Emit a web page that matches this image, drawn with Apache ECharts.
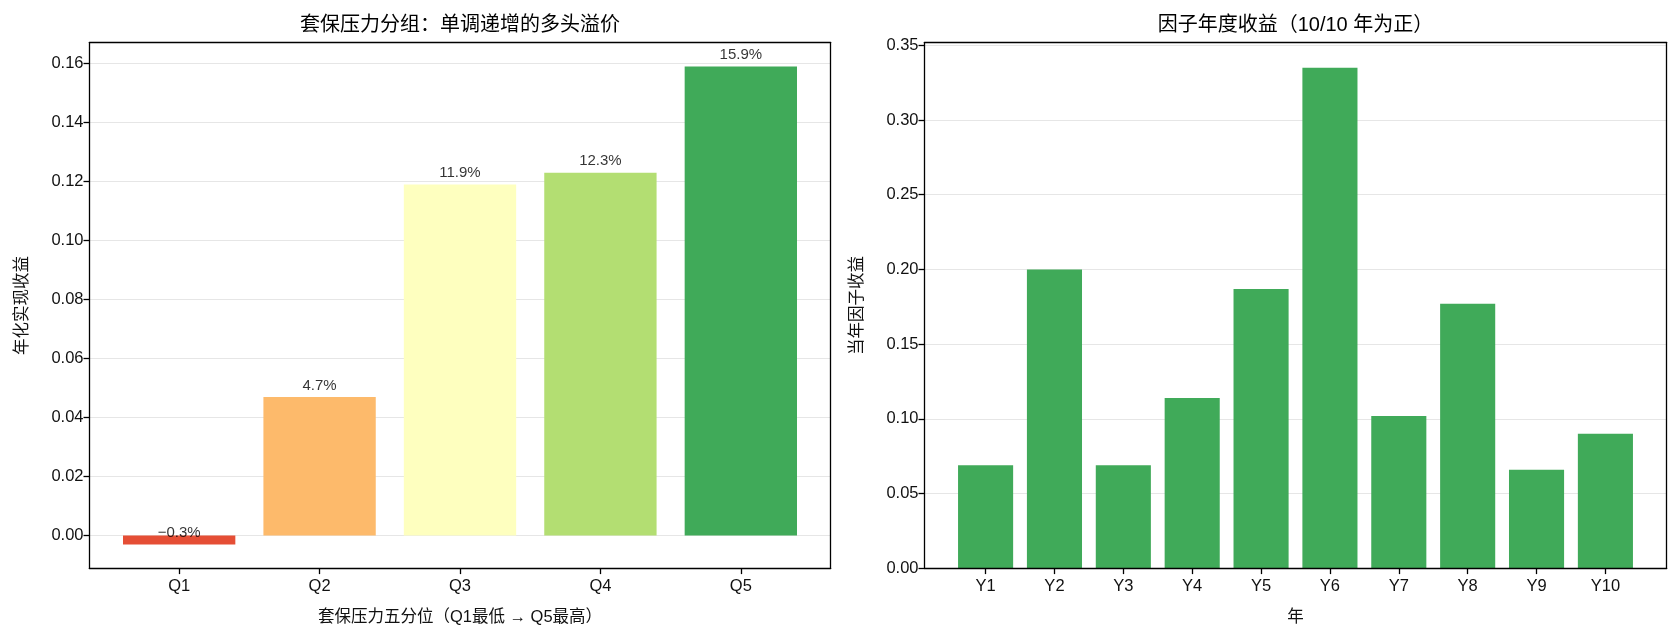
<!DOCTYPE html>
<html>
<head>
<meta charset="utf-8">
<script src="https://cdn.jsdelivr.net/npm/echarts@6/dist/echarts.min.js"></script>
<style>
html,body{margin:0;padding:0;background:#fff;}
#c{width:1678px;height:637px;}
</style>
</head>
<body>
<div id="c"></div>
<script>
// ---- data ----
const quintileCats = ['Q1', 'Q2', 'Q3', 'Q4', 'Q5'];
const quintileReturns = [-0.003, 0.047, 0.119, 0.123, 0.159];
const quintileColors = ['#e54e35', '#fdba6b', '#feffbf', '#b3de72', '#40aa59'];
const yearCats = ['Y1', 'Y2', 'Y3', 'Y4', 'Y5', 'Y6', 'Y7', 'Y8', 'Y9', 'Y10'];
const yearReturns = [0.069, 0.200, 0.069, 0.114, 0.187, 0.335, 0.102, 0.177, 0.066, 0.090];
const leftTicks = [0.00, 0.02, 0.04, 0.06, 0.08, 0.10, 0.12, 0.14, 0.16];
const rightTicks = [0.00, 0.05, 0.10, 0.15, 0.20, 0.25, 0.30, 0.35];

const FONT = "'Liberation Sans', 'Noto Sans CJK SC', sans-serif";
const TXT = '#111';

// matplotlib-like autoscale (5% margins)
const lMin0 = Math.min(0, ...quintileReturns), lMax0 = Math.max(...quintileReturns);
const lPad = (lMax0 - lMin0) * 0.05;
const leftMin = lMin0 - lPad, leftMax = lMax0 + lPad;
const rightMin = 0, rightMax = Math.max(...yearReturns) * 1.05;

// layout (pixels)
const L = {left: 89.3, top: 42.7, width: 741.4, height: 525.6};
const R = {left: 924.3, top: 42.7, width: 742.4, height: 525.6};
function bandGrid(frame, n) {
  const span = (n - 1) + 0.8;
  const m = span * 0.05;
  const total = span + 2 * m;
  const pxPer = frame.width / total;
  const start = frame.left + (0.4 + m - 0.5) * pxPer;
  return {left: start, top: frame.top, width: n * pxPer, height: frame.height};
}
const LB = bandGrid(L, quintileCats.length);
const RB = bandGrid(R, yearCats.length);

function fmtTick(step) {
  return function (v) {
    const k = v / step;
    if (Math.abs(k - Math.round(k)) > 1e-6) return '';
    return v.toFixed(2);
  };
}
function frameAxisX(gridIndex, position) {
  return {type: 'value', gridIndex, position, min: 0, max: 1, z: 5,
    axisLine: {show: true, onZero: false, lineStyle: {color: '#000', width: 1.3}},
    axisTick: {show: false}, axisLabel: {show: false}, splitLine: {show: false}};
}
function frameAxisYRight(gridIndex, min, max) {
  return {type: 'value', gridIndex, position: 'right', min, max, z: 5,
    axisLine: {show: true, onZero: false, lineStyle: {color: '#000', width: 1.3}},
    axisTick: {show: false}, axisLabel: {show: false}, splitLine: {show: false}};
}
function mainAxisY(gridIndex, min, max, splitNumber, ticks, step) {
  return {type: 'value', gridIndex, position: 'left', min, max, splitNumber, z: 0,
    axisLine: {show: true, onZero: false, lineStyle: {color: '#000', width: 1.3}},
    axisTick: {show: true, length: 5.8, customValues: ticks, lineStyle: {color: '#000', width: 1.3}},
    axisLabel: {show: true, margin: 5.8, customValues: ticks, formatter: fmtTick(step),
      fontFamily: FONT, fontSize: 16.5, color: TXT},
    splitLine: {show: true, lineStyle: {color: '#e6e6e6', width: 1.2}}};
}
function hiddenY(gridIndex, min, max) {
  return {type: 'value', gridIndex, min, max, show: false, splitLine: {show: false}};
}
function catX(gridIndex, cats) {
  return {type: 'category', gridIndex, data: cats, boundaryGap: true, position: 'bottom', z: 5,
    axisLine: {show: false, onZero: false},
    axisTick: {show: true, alignWithLabel: true, length: 5.8, lineStyle: {color: '#000', width: 1.3}},
    axisLabel: {margin: 10, fontFamily: FONT, fontSize: 16.5, color: TXT},
    splitLine: {show: false}};
}
function pct(v) {
  return (v * 100).toFixed(1).replace('-', '\u2212') + '%';
}

const chart = echarts.init(document.getElementById('c'), null, {renderer: 'canvas'});
chart.setOption({
  animation: false,
  backgroundColor: '#fff',
  grid: [
    Object.assign({containLabel: false}, L),
    Object.assign({containLabel: false}, LB),
    Object.assign({containLabel: false}, R),
    Object.assign({containLabel: false}, RB)
  ],
  xAxis: [
    frameAxisX(0, 'bottom'), frameAxisX(0, 'top'), catX(1, quintileCats),
    frameAxisX(2, 'bottom'), frameAxisX(2, 'top'), catX(3, yearCats)
  ],
  yAxis: [
    mainAxisY(0, leftMin, leftMax, 9, leftTicks, 0.02), frameAxisYRight(0, leftMin, leftMax), hiddenY(1, leftMin, leftMax),
    mainAxisY(2, rightMin, rightMax, 7, rightTicks, 0.05), frameAxisYRight(2, rightMin, rightMax), hiddenY(3, rightMin, rightMax)
  ],
  series: [
    {type: 'bar', xAxisIndex: 2, yAxisIndex: 2, barWidth: '80%', z: 2,
     data: quintileReturns.map((v, i) => ({value: v, itemStyle: {color: quintileColors[i]}}))},
    {type: 'scatter', xAxisIndex: 2, yAxisIndex: 2, symbolSize: 1, z: 6,
     itemStyle: {color: 'rgba(0,0,0,0)'},
     label: {show: true, position: 'top', distance: 3.5, fontFamily: FONT, fontSize: 15, color: '#000',
       formatter: p => pct(p.value[1])},
     data: quintileReturns.map((v, i) => [quintileCats[i], v])},
    {type: 'bar', xAxisIndex: 5, yAxisIndex: 5, barWidth: '80%', z: 2,
     itemStyle: {color: '#40aa59'}, data: yearReturns}
  ],
  graphic: [
    {type: 'text', x: L.left + L.width / 2, y: 25, z: 10,
     style: {text: '套保压力分组：单调递增的多头溢价', font: '20px ' + FONT, fill: '#000', align: 'center', verticalAlign: 'middle'}},
    {type: 'text', x: R.left + R.width / 2, y: 25, z: 10,
     style: {text: '因子年度收益（10/10 年为正）', font: '20px ' + FONT, fill: '#000', align: 'center', verticalAlign: 'middle'}},
    {type: 'text', x: L.left + L.width / 2, y: 617, z: 10,
     style: {text: '套保压力五分位（Q1最低 → Q5最高）', font: '16.5px ' + FONT, fill: TXT, align: 'center', verticalAlign: 'middle'}},
    {type: 'text', x: R.left + R.width / 2, y: 617, z: 10,
     style: {text: '年', font: '16.5px ' + FONT, fill: TXT, align: 'center', verticalAlign: 'middle'}},
    {type: 'text', x: 22, y: L.top + L.height / 2, rotation: Math.PI / 2, z: 10,
     style: {text: '年化实现收益', font: '16.5px ' + FONT, fill: TXT, align: 'center', verticalAlign: 'middle'}},
    {type: 'text', x: 857, y: R.top + R.height / 2, rotation: Math.PI / 2, z: 10,
     style: {text: '当年因子收益', font: '16.5px ' + FONT, fill: TXT, align: 'center', verticalAlign: 'middle'}}
  ]
});
</script>
</body>
</html>
